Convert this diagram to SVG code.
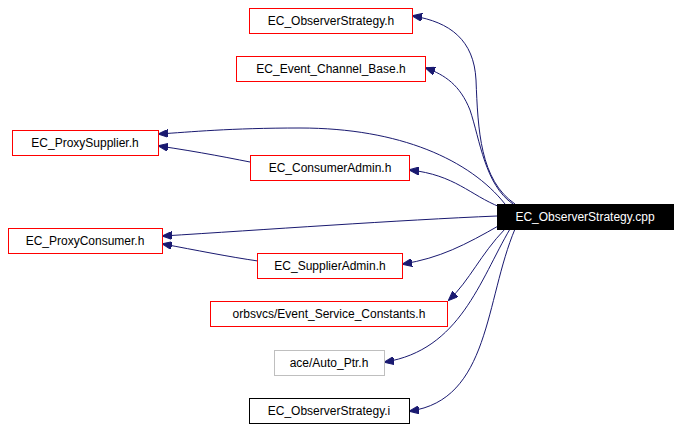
<svg xmlns="http://www.w3.org/2000/svg" width="682" height="428" viewBox="0 0 682 428">
<style>
.n rect{fill:#fff;stroke:#ff0000;stroke-width:1}
text{font-family:"Liberation Sans",Arial,sans-serif;font-size:12px;text-anchor:middle;fill:#000}
.e path{fill:none;stroke:#191970;stroke-width:1;marker-end:url(#a)}
</style>
<defs><marker id="a" markerWidth="10" markerHeight="8" refX="9" refY="4" orient="auto" markerUnits="userSpaceOnUse"><path d="M0,0L10,4L0,8z" fill="#191970" stroke="#191970"/></marker></defs>
<rect width="682" height="428" fill="#fff"/>
<g class="e">
<path d="M515,204C480,180 478,130 476,80 C474,40 450,22 413,16"/>
<path d="M513,204C485,185 480,140 470,110 C460,85 445,75 426,68"/>
<path d="M505,204C470,160 400,128 300,128 C230,128 190,132 159,134"/>
<path d="M500,207C470,195 455,175 410,170"/>
<path d="M265,165C230,158 200,152 159,146"/>
<path d="M497,216C400,220 260,230 163,236"/>
<path d="M500,225C465,245 440,258 403,264"/>
<path d="M258,261C230,257 195,250 163,244"/>
<path d="M505,229C480,255 470,280 449,300"/>
<path d="M510,229C480,280 460,350 385,362"/>
<path d="M515,229C485,300 490,400 410,411"/>
</g>
<g id="n1" class="n"><rect x="249.5" y="8.5" width="163" height="25"/><text x="331" y="25">EC_ObserverStrategy.h</text></g>
<g id="n2" class="n"><rect x="236.5" y="56.5" width="189" height="25"/><text x="331" y="73">EC_Event_Channel_Base.h</text></g>
<g id="n3" class="n"><rect x="12.5" y="130.5" width="146" height="25"/><text x="85" y="147">EC_ProxySupplier.h</text></g>
<g id="n4" class="n"><rect x="250.5" y="155.5" width="159" height="25"/><text x="330" y="172">EC_ConsumerAdmin.h</text></g>
<g id="n5"><rect x="497.5" y="204.5" width="176" height="25" fill="#000" stroke="#000"/><text x="585" y="221" fill="#fff" style="fill:#fff">EC_ObserverStrategy.cpp</text></g>
<g id="n6" class="n"><rect x="8.5" y="228.5" width="154" height="25"/><text x="85" y="245">EC_ProxyConsumer.h</text></g>
<g id="n7" class="n"><rect x="257.5" y="253.5" width="145" height="25"/><text x="330" y="270">EC_SupplierAdmin.h</text></g>
<g id="n8" class="n"><rect x="210.5" y="301.5" width="237" height="25"/><text x="329" y="318">orbsvcs/Event_Service_Constants.h</text></g>
<g id="n9"><rect x="274.5" y="350.5" width="110" height="25" fill="#fff" stroke="#bfbfbf"/><text x="329" y="367">ace/Auto_Ptr.h</text></g>
<g id="n10"><rect x="249.5" y="398.5" width="160" height="25" fill="#fff" stroke="#000"/><text x="329" y="415">EC_ObserverStrategy.i</text></g>
</svg>
